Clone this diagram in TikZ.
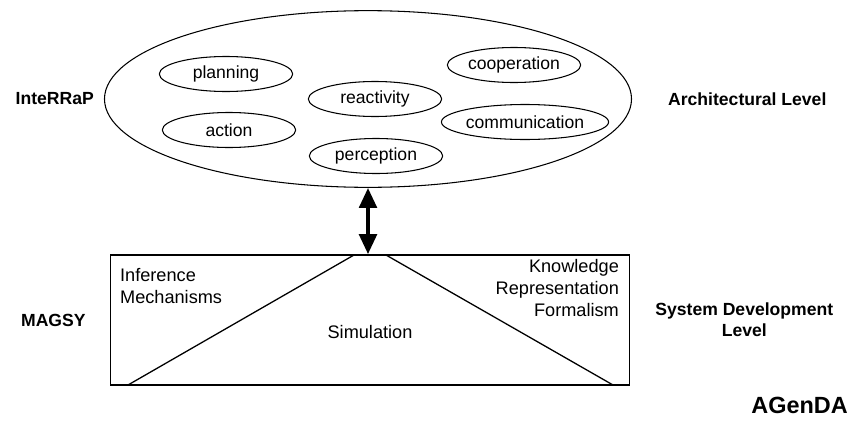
\documentclass[tikz,border=0pt]{standalone}
\usepackage{fontspec}
\setmainfont{Liberation Sans}
\usetikzlibrary{arrows.meta,shapes.geometric,positioning}

\begin{document}
\begin{tikzpicture}[x=0.03cm,y=-0.03cm,
        skill/.style={draw,ellipse,line width=0.9pt,minimum width=4cm,minimum height=1.05cm,inner sep=0pt,font=\fontsize{15}{18}\selectfont},
        level/.style={font=\bfseries\fontsize{15}{18}\selectfont,align=center},
        plain/.style={font=\fontsize{15.5}{18.5}\selectfont}]
        \useasboundingbox (0,0) rectangle (848,420);
        \node[draw,ellipse,line width=0.9pt,minimum width=15.81cm,minimum height=5.3cm] (agent) at (368,99) {};
        \node[skill] (planning) at (226,74) {planning};
        \node[skill] (reactivity) at (375,99) {reactivity};
        \node[skill] (cooperation) at (514,65) {cooperation};
        \node[skill] (action) at (229,130) {action};
        \node[skill,minimum width=4.2cm] (communication) at (525,122) {communication};
        \node[skill] (perception) at (376,156) {perception};
        \node[level,left = 0.18cm of agent] (interrap) {InteRRaP};
        \node[level,right = 0.96cm of agent] (archlevel) {Architectural Level};
        \node[draw,line width=1.3pt,minimum width=15.57cm,minimum height=3.9cm] (sysbox) at (370,320) {};
        \coordinate (apexl) at (354,255);
        \coordinate (apexr) at (386,255);
        \coordinate (footl) at (128,385);
        \coordinate (footr) at (613,385);
        \draw[line width=1.1pt] (footl) -- (apexl);
        \draw[line width=1.1pt] (apexr) -- (footr);
        \draw[{Triangle[length=0.6cm,width=0.52cm]}-{Triangle[length=0.6cm,width=0.52cm]},line width=3.5pt] (agent.south) -- (agent.south |- sysbox.north);
        \node[plain,align=left,anchor=west] (inference) at (116,286) {Inference\\Mechanisms};
        \node[plain,align=right,anchor=east] (knowledge) at (623,288) {Knowledge\\Representation\\Formalism};
        \node[plain] (simulation) at (370,332) {Simulation};
        \node[level,left = 0.6cm of sysbox] (magsy) {MAGSY};
        \node[level,right = 0.63cm of sysbox] (syslevel) {System Development\\Level};
        \node[level,font=\bfseries\fontsize{20}{24}\selectfont,inner sep=0pt,anchor=east] (agenda) at (848,405) {AGenDA};
      \end{tikzpicture}
\end{document}
